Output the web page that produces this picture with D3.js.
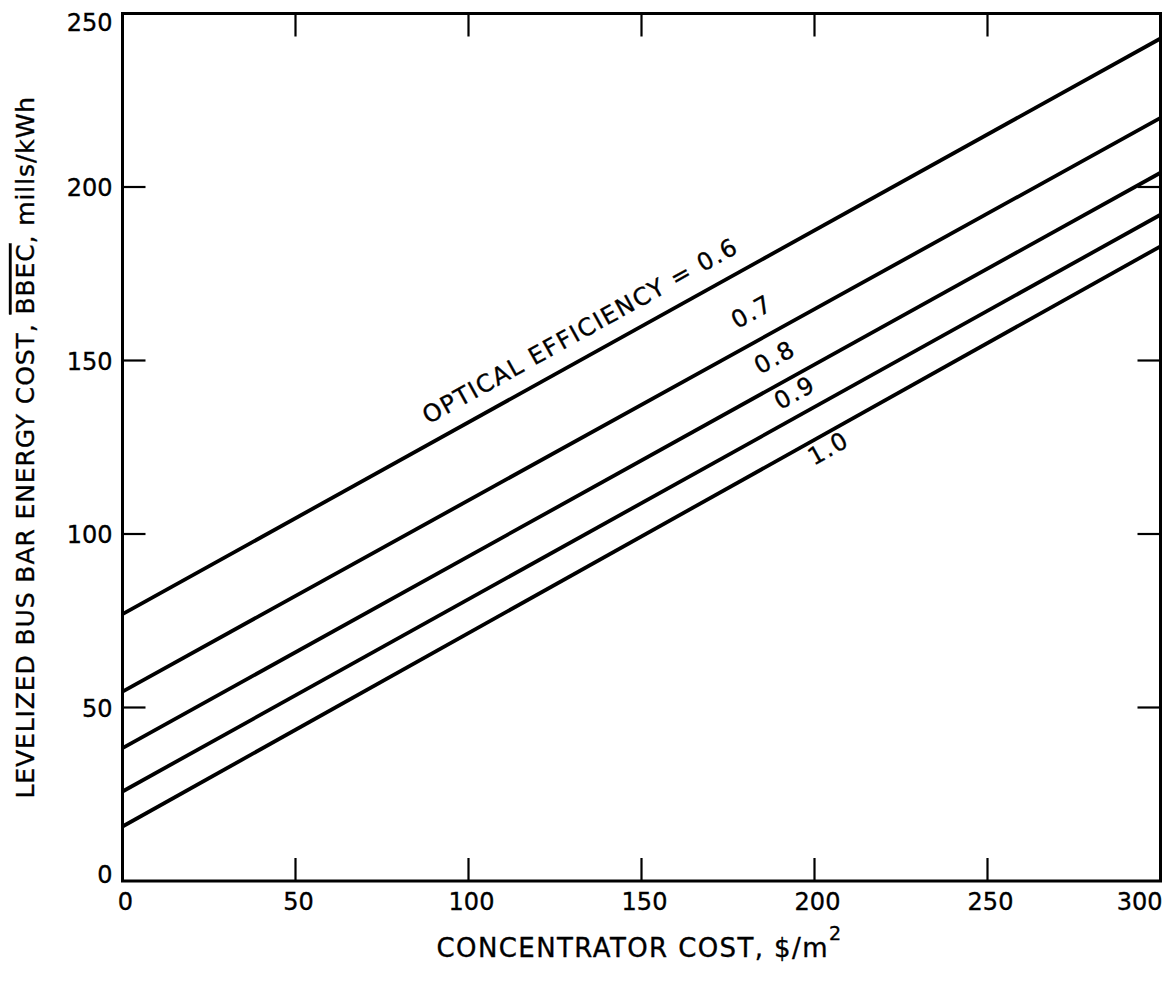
<!DOCTYPE html>
<html><head><meta charset="utf-8">
<script src="https://cdn.jsdelivr.net/npm/d3@7"></script>
<style>body{margin:0;background:#fff}</style>
</head><body><svg id="c" width="1173" height="981"></svg>
<script>
// ---- data ----
const concentratorCost = [0, 300];
const efficiencies = ["0.6", "0.7", "0.8", "0.9", "1.0"];
const bbecAt0 = [76.9, 54.6, 38.3, 25.8, 15.7];
const bbecAt300 = [242.8, 219.9, 204.1, 192.0, 182.9];
const xTickValues = [0, 50, 100, 150, 200, 250, 300];
const yTickValues = [0, 50, 100, 150, 200, 250];
const curveLabels = ["OPTICAL EFFICIENCY = 0.6", "0.7", "0.8", "0.9", "1.0"];
const labelCost = [90.8, 180.4, 186.7, 192, 196.6];

// ---- layout / style ----
const labelOffset = [17.5, 19.8, 17.5, 14, -22.5];
const L = 122.5, R = 1160.5, T = 13.5, B = 881;
const font = "'DejaVu Sans', sans-serif";
const svg = d3.select("#c");
const x = d3.scaleLinear().domain([0, 300]).range([L, R]);
const y = d3.scaleLinear().domain([0, 250]).range([B, T]);

const series = efficiencies.map((e, i) => ({
  eff: e,
  pts: concentratorCost.map((c, j) => ({ c, v: j === 0 ? bbecAt0[i] : bbecAt300[i] })),
  label: curveLabels[i], lx: labelCost[i], off: labelOffset[i]
}));

// inner ticks (interior values only, since the frame covers the ends)
const inner = v => v.slice(1, -1);
const tickLen = 23;
const axes = svg.append("g").attr("stroke", "#000").attr("stroke-width", 2.2);
axes.selectAll(".tb").data(inner(xTickValues)).join("line")
  .attr("x1", d => x(d)).attr("x2", d => x(d)).attr("y1", B).attr("y2", B - tickLen);
axes.selectAll(".tt").data(inner(xTickValues)).join("line")
  .attr("x1", d => x(d)).attr("x2", d => x(d)).attr("y1", T).attr("y2", T + tickLen);
axes.selectAll(".tl").data(inner(yTickValues)).join("line")
  .attr("y1", d => y(d)).attr("y2", d => y(d)).attr("x1", L).attr("x2", L + tickLen);
axes.selectAll(".tr").data(inner(yTickValues)).join("line")
  .attr("y1", d => y(d)).attr("y2", d => y(d)).attr("x1", R).attr("x2", R - tickLen);

// frame
svg.append("rect").attr("x", x(0)).attr("y", y(250))
  .attr("width", x(300) - x(0)).attr("height", y(0) - y(250))
  .attr("fill", "none").attr("stroke", "#000").attr("stroke-width", 3);

// lines
const line = d3.line().x(d => x(d.c)).y(d => y(d.v));
svg.append("g").selectAll("path").data(series).join("path")
  .attr("d", d => line(d.pts)).attr("fill", "none")
  .attr("stroke", "#000").attr("stroke-width", 3.8);

const textStyle = sel => sel.attr("font-family", font).attr("fill", "#000")
  .attr("stroke", "#000").attr("stroke-width", 0.35);

// tick labels
svg.append("g").selectAll("text").data(xTickValues).join("text")
  .attr("x", (d, i) => i === xTickValues.length - 1 ? x(d) + 2 : x(d) + 3)
  .attr("y", B + 29)
  .attr("text-anchor", (d, i) => i === xTickValues.length - 1 ? "end" : "middle")
  .attr("font-size", 24).call(textStyle).text(d => d);

svg.append("g").selectAll("text").data(yTickValues).join("text")
  .attr("x", L - 10)
  .attr("y", (d, i) => y(d) + 9 + (i === 0 ? -7 : i === yTickValues.length - 1 ? 8 : 0))
  .attr("text-anchor", "end")
  .attr("font-size", 24).call(textStyle).text(d => d);

// axis titles
const xt = svg.append("text").attr("x", (L + R) / 2 - 2).attr("y", 957)
  .attr("text-anchor", "middle").attr("font-size", 26)
  .attr("letter-spacing", 1.4).call(textStyle);
xt.append("tspan").text("CONCENTRATOR COST, $/m");
xt.append("tspan").attr("dy", -17).attr("font-size", 19).text("2");

const yt = svg.append("text")
  .attr("transform", `translate(34,${(T + B) / 2}) rotate(-90)`)
  .attr("text-anchor", "middle").attr("font-size", 25)
  .attr("letter-spacing", 0.9).call(textStyle);
yt.append("tspan").text("LEVELIZED BUS BAR ENERGY COST, ");
yt.append("tspan").style("text-decoration", "overline").text("BBEC");
yt.append("tspan").text(", mills/kWh");

// curve labels
svg.append("g").selectAll("text").data(series).join("text")
  .attr("transform", d => {
    const a = Math.atan2(y(d.pts[1].v) - y(d.pts[0].v), x(d.pts[1].c) - x(d.pts[0].c)) * 180 / Math.PI;
    const v = d.pts[0].v + (d.pts[1].v - d.pts[0].v) * (d.lx - d.pts[0].c) / (d.pts[1].c - d.pts[0].c);
    return `translate(${x(d.lx)},${y(v)}) rotate(${a})`;
  })
  .attr("y", d => -d.off)
  .attr("font-size", 24).attr("letter-spacing", 1.5).call(textStyle)
  .text(d => d.label);
</script>
</body></html>
